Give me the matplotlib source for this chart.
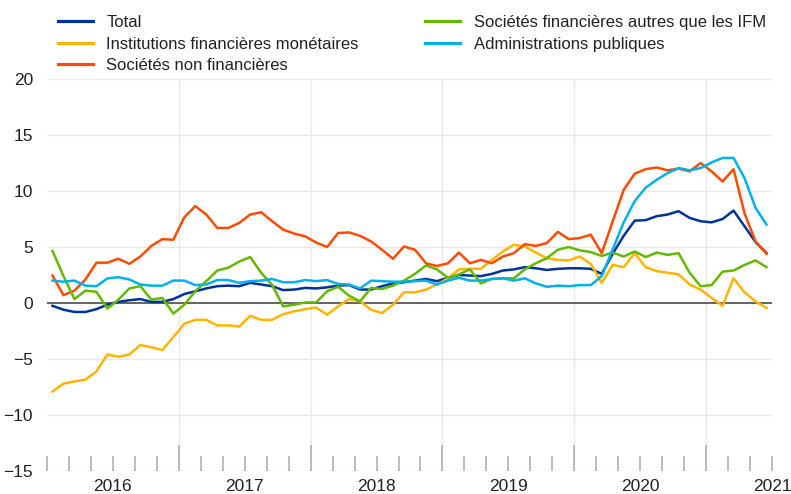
import numpy as np
import matplotlib
matplotlib.use("Agg")
from matplotlib import pyplot as plt

plt.rcParams['font.family'] = ['Liberation Sans', 'DejaVu Sans']

# monthly data, Jul 2015 - Dec 2020
start_year = 2015.5
n_months = 66

total = [-0.25, -0.6, -0.8, -0.8, -0.55, -0.15, 0.1, 0.25, 0.35, 0.1, 0.1, 0.35,
         0.8, 1.05, 1.3, 1.5, 1.55, 1.5, 1.8, 1.65, 1.5, 1.15, 1.2, 1.35,
         1.3, 1.4, 1.55, 1.6, 1.2, 1.2, 1.5, 1.75, 1.85, 2.0, 2.15, 1.95,
         2.25, 2.5, 2.45, 2.4, 2.6, 2.9, 3.0, 3.2, 3.1, 2.95, 3.05, 3.1,
         3.1, 3.05, 2.6, 4.4, 6.0, 7.35, 7.4, 7.75, 7.9, 8.2, 7.6, 7.3,
         7.2, 7.5, 8.25, 6.85, 5.45, 4.45]

ifm = [-7.9, -7.2, -7.0, -6.85, -6.1, -4.6, -4.8, -4.6, -3.75, -3.95, -4.2, -3.05,
       -1.85, -1.5, -1.5, -2.0, -2.0, -2.1, -1.15, -1.5, -1.5, -1.0, -0.75, -0.55,
       -0.4, -1.05, -0.3, 0.35, 0.15, -0.6, -0.9, -0.15, 0.95, 0.95, 1.2, 1.65,
       2.2, 3.0, 3.05, 3.05, 3.85, 4.6, 5.2, 5.05, 4.5, 4.0, 3.85, 3.8,
       4.15, 3.5, 1.8, 3.4, 3.2, 4.45, 3.2, 2.85, 2.7, 2.55, 1.65, 1.2,
       0.45, -0.25, 2.2, 0.95, 0.15, -0.45]

snf = [2.45, 0.7, 1.1, 2.1, 3.6, 3.6, 3.95, 3.5, 4.15, 5.1, 5.7, 5.65,
       7.65, 8.65, 7.9, 6.7, 6.7, 7.15, 7.9, 8.1, 7.3, 6.55, 6.2, 5.95,
       5.4, 5.0, 6.25, 6.3, 6.0, 5.5, 4.75, 3.95, 5.05, 4.75, 3.55, 3.3,
       3.55, 4.5, 3.55, 3.85, 3.55, 4.15, 4.45, 5.25, 5.1, 5.35, 6.35, 5.7,
       5.8, 6.1, 4.45, 7.3, 10.1, 11.55, 11.95, 12.1, 11.85, 12.0, 11.75, 12.5,
       11.75, 10.85, 11.95, 8.0, 5.5, 4.4]

sf_autres = [4.65, 2.4, 0.35, 1.1, 1.0, -0.5, 0.3, 1.3, 1.5, 0.3, 0.45, -0.95,
             -0.15, 1.05, 1.95, 2.9, 3.15, 3.7, 4.1, 2.7, 1.6, -0.3, -0.15, 0.05,
             0.05, 1.05, 1.45, 0.65, 0.15, 1.35, 1.25, 1.55, 2.0, 2.6, 3.35, 3.0,
             2.25, 2.55, 3.0, 1.75, 2.15, 2.2, 2.2, 3.0, 3.55, 4.0, 4.75, 5.0,
             4.7, 4.55, 4.2, 4.5, 4.15, 4.6, 4.1, 4.5, 4.3, 4.45, 2.7, 1.5,
             1.6, 2.8, 2.9, 3.4, 3.8, 3.2]

apu = [2.0, 1.9, 2.0, 1.55, 1.5, 2.2, 2.3, 2.1, 1.65, 1.55, 1.55, 2.0,
       2.0, 1.6, 1.65, 2.05, 2.05, 1.8, 1.95, 2.0, 2.15, 1.85, 1.85, 2.05,
       1.95, 2.05, 1.7, 1.65, 1.3, 2.0, 1.95, 1.9, 1.9, 1.95, 2.0, 1.65,
       2.0, 2.25, 2.0, 2.0, 2.15, 2.2, 2.0, 2.2, 1.75, 1.45, 1.55, 1.5,
       1.6, 1.6, 2.4, 4.8, 7.2, 9.1, 10.3, 11.0, 11.6, 12.05, 11.85, 12.05,
       12.55, 12.95, 12.95, 11.15, 8.5, 7.0]

labels = ["Total", "Institutions financières monétaires", "Sociétés non financières",
          "Sociétés financières autres que les IFM", "Administrations publiques"]
colors = ["#003299", "#FFB400", "#FF4B00", "#65B800", "#00B1EA"]
year_labels = ["2016", "2017", "2018", "2019", "2020", "2021"]

x = start_year + (np.arange(n_months) + 0.5) / 12

fig = plt.figure(figsize=(7.91, 4.94), dpi=100)
ax = fig.add_axes([47 / 791, 1 - 471 / 494, 725 / 791, 392 / 494])

grid_c = "#e9e9e9"
for y in range(-15, 25, 5):
    ax.axhline(y, color=grid_c, lw=1, zorder=0)
for yr in range(2016, 2021):
    ax.axvline(yr + 0.5, color=grid_c, lw=1, zorder=0)
ax.axhline(0, color="#595959", lw=1.3, zorder=1)

series = [total, ifm, snf, sf_autres, apu]
for vals, lab, col in zip(series, labels, colors):
    ax.plot(x, vals, color=col, lw=1.8, label=lab, zorder=2)

ax.set_xlim(2015.5, 2021.0)
ax.set_ylim(-15, 20)
ax.set_yticks(range(-15, 25, 5))
for s in ax.spines.values():
    s.set_visible(False)

# tall ticks in July, short ticks every two months, year labels in January
ax.set_xticks([yr + 0.5 for yr in range(2016, 2021)])
ax.set_xticklabels([])
minor = [start_year + k / 6 for k in range(34) if k % 6 != 0 or k == 0]
ax.set_xticks(minor, minor=True)
minor_labels = []
for m in minor:
    if abs(m - round(m)) < 1e-6:
        minor_labels.append(year_labels[int(round(m)) - 2016])
    else:
        minor_labels.append("")
ax.set_xticklabels(minor_labels, minor=True)
ax.tick_params(axis="x", which="major", direction="in", length=19, width=1.2,
               color="#b0b0b0", pad=6)
ax.tick_params(axis="x", which="minor", direction="in", length=11, width=1.2,
               color="#b0b0b0", pad=6, labelsize=12.5, labelcolor="#222222")
ax.tick_params(axis="y", length=0, pad=10, labelsize=12.5, labelcolor="#222222")

leg = fig.legend(loc="upper left", bbox_to_anchor=(58 / 791, 1 - 15 / 494), ncol=2,
                 frameon=False, fontsize=12, handlelength=2.1, handletextpad=0.8,
                 columnspacing=4.0, labelspacing=0.4, borderpad=0, borderaxespad=0)
for h in leg.get_lines():
    h.set_linewidth(2.3)
for t in leg.get_texts():
    t.set_color("#222222")

fig.savefig("out.png", dpi=100)
